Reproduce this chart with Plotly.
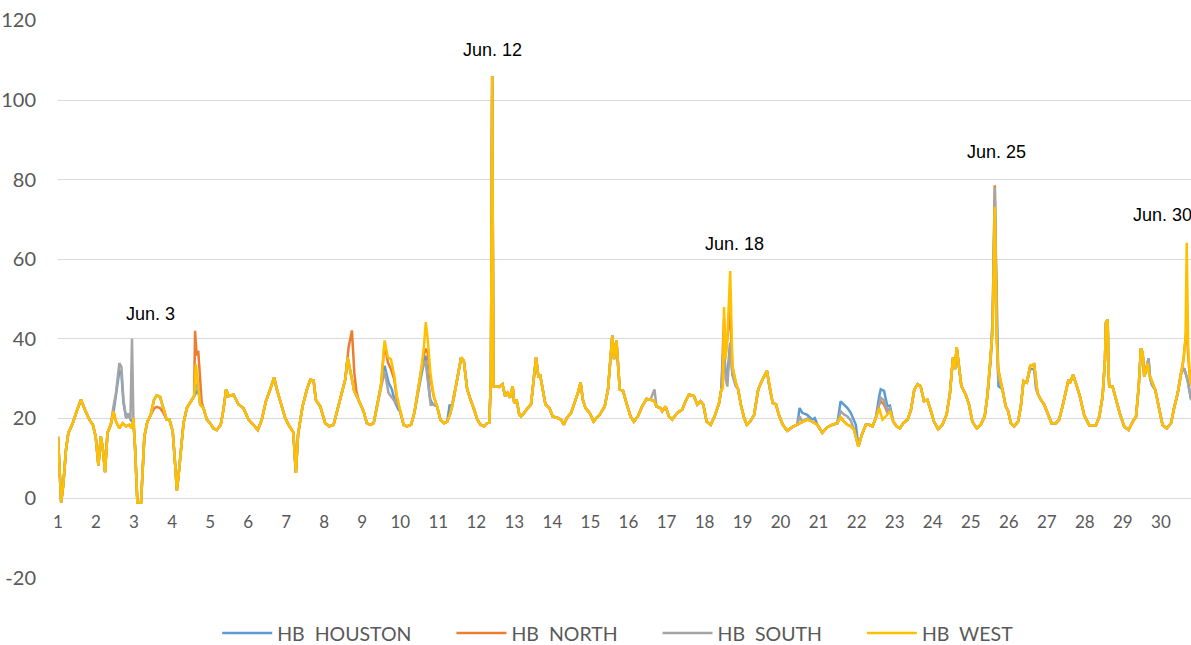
import plotly.graph_objects as go

# ---- data (hour of month, $/MWh) ----
west_h = [0, 2, 3.4, 5, 6.5, 9.3, 11.8, 14.5, 17, 19.8, 22, 23.8, 25.5, 27, 28.2, 29.7, 31.2, 33.3, 35, 36.6,
          38.7, 40.8, 42.9, 45, 46.5, 47.6, 48.6, 50.1, 52.4, 54.5, 56.4, 58.5, 60.6, 62.3, 64.4, 66.5, 68.6, 70.3,
          72.4, 73.9, 75, 76, 77.5, 79.2, 81.3, 83.4, 85.9, 87, 88.5, 89.7, 91.8, 93.9, 96, 98, 100.2, 102.7,
          104.4, 106.1, 107.6, 110.7, 113.9, 117, 120.2, 123.4, 126.1, 128.6, 131.2, 133.9, 136.4, 138.1, 140.8,
          143.4, 145.5, 148.5, 150.1, 151.5, 154.3, 157.1, 159.2, 161.3, 162.7, 165.5, 168.6, 171.2, 173.9, 177.1,
          180.2, 181.3, 182.8, 184.5, 186.9, 189.6, 192.8, 194.9, 197, 199.2, 201.3, 203.8, 206.1, 208.2, 210.1,
          212.2, 213.9, 216, 218.1, 220.2, 222.8, 224.9, 227, 229.1, 230.8, 232.1, 233.3, 235, 237.1, 239.2, 241.3,
          243.5, 245.6, 247.7, 249.8, 251.9, 254.4, 256.1, 258.2, 260.3, 262.4, 264.6, 266.7, 268.8, 270.9, 272.2,
          273.2, 274, 274.8, 276, 278.4, 280.5, 282.2, 283.7, 285.2, 286.9, 287.9, 289.4, 291.1, 292.2, 294.3,
          296.4, 298.5, 300.2, 301.7, 303.2, 304.2, 305.9, 307.6, 310.1, 312.2, 315.4, 317.5, 319.2, 321.1, 323.8,
          326, 328.1, 329.8, 331.2, 332.9, 335.5, 338, 339.7, 341.8, 345, 347.1, 348.6, 349.8, 350.9, 352.4, 354.5,
          356.6, 358.7, 361.3, 363.4, 365.9, 368.6, 371.4, 373.9, 376.4, 377.7, 380.2, 381.3, 383.4, 385.5, 387.6,
          390.8, 393.9, 396, 398.2, 401.3, 403.4, 405.5, 407.2, 409.3, 411.9, 414.4, 417.2, 418.6, 419.6, 420.3,
          421.3, 422.4, 424.2, 425.6, 427.7, 429.2, 430.9, 433, 434.7, 436.8, 439.3, 441.9, 444.6, 447.4, 448.9,
          451, 453.1, 454.9, 457.4, 460.2, 463.3, 466.5, 469.7, 472.8, 476, 479.2, 482.3, 485.5, 488.7, 491.8,
          493.9, 496, 498.2, 500.3, 502.4, 505.1, 507.2, 509.8, 511.9, 514, 516.1, 518.2, 520.3, 522.4, 525, 527.1,
          529.2, 531.3, 533.4, 536.2, 538.3, 540.4, 542.5, 544.4, 546.5, 548.6, 550.7, 552.8, 555.4, 558.1, 560.8,
          562.9, 564.8, 566.1, 567.1, 568.6, 570.1, 572.8, 574.9, 577, 579.8, 582.3, 584.8, 586.5, 588.6, 589.8,
          591.2, 592.4, 593.3, 596, 598.1, 599.6, 601.3, 603.4, 605.9, 607.6, 609.3, 611.4, 613.5, 616, 618.1,
          620.2, 622.3, 624.4, 627, 629.7, 631.8, 633.9, 636.1, 637.7, 638.5, 640.6, 642.7, 644.9, 647.6, 650.8,
          655, 657.1, 659.2, 660.7, 661.3, 662.4, 663, 663.4, 665.5, 667.6, 670.1, 672.9, 675.6, 678.2, 680.3, 682,
          683.4, 684.5, 685.5, 686.6, 687.6, 688.7, 690.4, 692.5, 694.6, 697.1, 699.7, 702.4, 704.5, 706.6, 708.7,
          710.2, 711.5, 712.3, 713.2, 714.4, 715.7, 717, 719]
west_v = [15.4, -1.1, 3.6, 12, 16.3, 18.8, 21.8, 24.7, 22.2, 19.7, 18.4, 15.4, 8.2, 15.4, 12.7, 6.5, 16.3, 18.4, 21.8, 19.2,
          17.5, 18.8, 18, 18.4, 17.5, 20.1, 12.9, -1.1, -1.1, 15.4, 19.2, 20.9, 24.7, 25.8, 25.4, 22.6, 19.7, 19.7,
          16.7, 8.6, 1.9, 5.3, 12, 18.8, 22.6, 23.9, 25.6, 33.6, 28, 23.5, 22.6, 19.7, 18.8, 17.5, 17.1, 18.4,
          22.2, 27.3, 25.6, 26, 23.5, 22.6, 19.7, 18.4, 17.1, 19.7, 24.3, 27.3, 30.3, 27.3, 23.9,
          20.1, 18.4, 16.5, 6.3, 16, 23, 27.3, 29.7, 29.5, 24.7, 23, 18.8, 18, 18.4, 23.5,
          28, 29.8, 35.3, 31.5, 26.9, 24.7, 21.8, 18.8, 18.4, 18.8, 23, 28.1, 39.6, 35.3, 34.9,
          30.7, 25.6, 21.8, 18.4, 18, 18.4, 21.4, 26.4, 31.9, 37.5, 44.2, 40, 31.5, 25.6, 23, 19.7,
          18.8, 19.2, 21.4, 25.2, 29.8, 35.3, 34.5, 27.3, 24.7, 22.6, 19.7, 18.4, 18, 18.8, 19,
          30, 106, 28.1, 28, 27.9, 28.6, 25.6, 26.4, 25.2, 28.1, 23.9, 24.7, 20.9, 20.5, 21.4,
          22.6, 23.5, 29.8, 35.3, 30.3, 31.1, 27.3, 23.5, 22.6, 20.5, 20.1, 19.7, 18.4, 20.1, 21.4,
          23.9, 26.4, 29, 24.7, 22.6, 21.4, 19.2, 20.1, 20.9, 23, 27.3, 34, 40.8, 34.9, 39.6, 27.3,
          26.9, 23.9, 20.5, 19.2, 20.5, 23, 24.9, 24.7, 24.3, 23, 22.6, 21.8, 23, 20.5, 19.7,
          21.4, 22.2, 24.3, 26, 25.6, 23.5, 24.3, 23.5, 19.2, 18.4, 20.5, 23.9, 27.3, 27.5, 48,
          34.9, 40, 57, 33.2, 29, 27.3, 23.5, 20.1, 18.4, 19.2, 20.9, 27.3, 29.8, 31.9, 28.1,
          23.9, 23.5, 20.9, 18.4, 16.9, 17.8, 18.4, 19.2, 19.7, 19.2, 18.4, 16.4, 17.8, 18.4, 18.8,
          20.3, 19.2, 18.4, 18, 17.1, 12.9, 15.8, 18.4, 18.4, 18, 20.1, 22.6, 19.7, 20.5, 21.8, 19.2,
          18, 17.5, 18.8, 19.7, 22.2, 27.3, 28.6, 28.1, 24.3, 24.7, 22.2, 19.2, 17.3, 18.4, 21,
          26.4, 35.3, 32.4, 37.9, 33, 28.1, 26, 23.5, 19.2, 17.5, 18.4, 20.5, 25.6, 34.9, 42,
          73.2, 40, 32.4, 27.3, 23, 21.8, 18.8, 18, 19.2, 23, 29.4, 29, 33.2, 33.6, 26.4,
          24.7, 23.5, 21.4, 18.8, 18.8, 19.7, 23, 26.5, 29.7, 28.8, 30.9, 28.4, 25.5, 20.8, 18.3,
          18.3, 20.4, 25.5, 34.7, 44, 44.8, 31.5, 28, 28, 24.6, 21.2, 17.9, 17.1, 19.2, 20.4, 28,
          37.6, 36.4, 30.5, 32.2, 33.9, 31, 29.2, 27.1, 22.9, 18.3, 17.5, 18.8, 22.9, 26.3, 31.3,
          34.6, 39.7, 64.1, 38, 29.7, 28, 25, 23]

# stretches where the other hubs depart from HB WEST (hour, value)
houston_h = [33.3, 35, 36.6, 38.7, 40, 41.3, 43, 44.4, 45.7, 47.6, 48.6,
             85.9, 87, 88.5, 89.7,
             203.8, 206.1, 208.6, 210.7, 212.8, 214.9, 216,
             227, 229.6, 231.9, 233.2, 234.9, 236.6, 239.2,
             245.6, 247.2, 248.5, 249.8,
             418.6, 420.4, 421.4, 422.4, 424.2, 425.6, 427.7, 429.2,
             466.5, 468, 469.7, 472.8, 476, 477.6, 479.2,
             491.8, 493.9, 496, 498.2, 500.3, 501.8, 503.5, 505.1,
             516.1, 518.2, 519.2, 521.3, 523.4, 525, 526.7, 527.1,
             588.6, 589.8, 591.2, 592.4, 593.5, 596,
             611.4, 613.5, 616, 617.2, 618.1,
             685.5, 686.6, 688.2, 689.2, 690.4, 692.5,
             708.7, 710.7, 712.8, 714.9, 717, 719]
houston_v = [18.4, 21.5, 25.6, 31.9, 31.5, 23.9, 20.1, 21.2, 19.7, 18.8, 12.9,
             25.6, 26.4, 27.3, 23.5,
             28.1, 33.2, 29, 27.3, 23.9, 22.2, 21.8,
             26.4, 31.5, 35.8, 31.5, 24.7, 23.5, 23,
             19.2, 23.5, 22.5, 25.2,
             27.3, 36, 31, 30.5, 39, 31, 28.2, 27.3,
             18.4, 22.6, 21.4, 20.9, 19.7, 20.1, 18.4,
             18.8, 24.3, 23.5, 22.6, 21.4, 20.1, 18.4, 12.9,
             20.1, 25.5, 27.3, 26.9, 23, 23.2, 20.1, 19.2,
             34.9, 42, 75, 45, 28.1, 27.3,
             29, 32.4, 32.4, 27.5, 26.4,
             30.5, 32.2, 35.1, 30, 28.4, 27.1,
             31.3, 32.6, 29.7, 25, 24, 23]

north_h = [58.5, 60.6, 62.3, 64.4, 66.5, 68.6,
           83.4, 85.9, 86.5, 87.5, 88.5, 89.7, 90.7, 91.8,
           181.3, 183.4, 185.5, 187, 188.3, 189.6,
           203.8, 206.1, 208.2, 210.1, 212.2, 213.9, 216,
           229.1, 230.8, 232.1, 233.3, 235, 237.1,
           418.6, 420.3, 421.3, 422.4, 424.2, 425.6, 427.7,
           516.1, 518.2, 519.2, 521.3, 523.4, 525, 527.1,
           588.6, 589.8, 591.2, 592.4, 593.3,
           710.2, 711.5, 712.3, 713.2, 714.4]
north_v = [20.9, 22.5, 22.9, 22.6, 21.4, 19.7,
           23.9, 25.6, 42, 35.8, 37, 29, 24, 22.6,
           29.8, 37.9, 42.1, 31.5, 26.9, 24.7,
           28.1, 38.7, 34, 32.4, 29.8, 24.7, 21.8,
           31.9, 36, 37.5, 36.5, 30, 25.6,
           27.3, 45, 36, 40, 47, 33, 29,
           20.1, 23.5, 24.3, 23.5, 21.5, 22, 19.2,
           34.9, 45, 78.6, 40, 32.4,
           34.6, 40, 42.7, 36, 29.7]

south_h = [33.3, 35, 36.6, 38.7, 40, 41.3, 43, 44.4, 45.7, 46.7, 47.6, 48.6,
           85.9, 87, 88.5, 89.7,
           203.8, 206.1, 208.6, 210.7, 212.8, 214.9, 216,
           229.1, 231.9, 233.2, 235.2, 237.1, 239.2,
           373.9, 376.4, 377.7,
           418.6, 420.3, 421.3, 422.4, 424.2, 425.6, 427.7, 429.2,
           466.5, 468, 472.8, 476,
           491.8, 493.9, 496, 498.2, 500.3, 502.4,
           516.1, 518.2, 519.2, 521.3, 523.4, 525, 527.1,
           588.6, 589.8, 591.2, 592.4, 593.3, 596,
           685.5, 686.6, 688.2, 689.2, 690.4, 692.5,
           708.7, 710.7, 712.8, 714.9, 717, 719]
south_v = [18.4, 23, 26.4, 33.9, 33, 24.7, 20.1, 21, 19.7, 40, 19, 12.9,
           25.6, 28, 29, 23.5,
           28.1, 31.9, 26.4, 25.2, 23.9, 23, 21.8,
           31.9, 34.5, 30, 23.4, 23.5, 23,
           24.7, 27.3, 23,
           27.3, 40, 30, 28, 39, 31, 28.2, 27.3,
           18.4, 20.5, 20, 19.2,
           18.8, 21.8, 21, 20.5, 19.5, 17.1,
           20.1, 24, 25.2, 24.5, 22, 22.6, 19.2,
           34.9, 45, 78, 43, 30, 27.3,
           30.5, 32.2, 35.1, 30, 28.4, 27.1,
           31.3, 32.6, 29.7, 25, 24, 23]

day_labels = [str(d) for d in range(1, 31)]
day_hours = [24 * (d - 1) for d in range(1, 31)]
y_ticks = [-20, 0, 20, 40, 60, 80, 100, 120]
y_labels = ["-20", "0", "20", "40", "60", "80", "100", "120"]

notes = ["Jun. 3", "Jun. 12", "Jun. 18", "Jun. 25", "Jun. 30"]
note_h = [58.4, 274.1, 427, 592, 677.2]
note_y = [46.2, 112.6, 63.8, 87.0, 71.1]

NB = "\u00a0"


def merge(dev_h, dev_v):
    segs, start = [], 0
    for i in range(1, len(dev_h) + 1):
        if i == len(dev_h) or dev_h[i] - dev_h[i - 1] > 4:
            segs.append((dev_h[start], dev_h[i - 1]))
            start = i
    pts = [(h, v) for h, v in zip(west_h, west_v) if not any(a <= h <= b for a, b in segs)]
    pts += list(zip(dev_h, dev_v))
    pts.sort()
    return [p[0] for p in pts], [p[1] for p in pts]


pad = NB * 7
series = [
    ("HB" + NB + " HOUSTON" + pad, *merge(houston_h, houston_v), "#5B9BD5"),
    ("HB" + NB + " NORTH" + pad, *merge(north_h, north_v), "#ED7D31"),
    ("HB" + NB + " SOUTH" + pad, *merge(south_h, south_v), "#A5A5A5"),
    ("HB" + NB + " WEST", west_h, west_v, "#FFC000"),
]

fig = go.Figure()
for name, xs, ys, col in series:
    fig.add_trace(go.Scatter(x=xs, y=ys, mode="lines", name=name,
                             line=dict(color=col, width=2.5)))

for t, h, y in zip(notes, note_h, note_y):
    fig.add_annotation(x=h, y=y, xref="x", yref="y", text=t, showarrow=False,
                       xanchor="left" if t == "Jun. 30" else "center", yanchor="middle",
                       font=dict(family="Liberation Sans, Arial", size=18, color="#000000"))

fig.update_layout(
    width=1191, height=645,
    margin=dict(l=58, r=0, t=20, b=67, autoexpand=False),
    paper_bgcolor="white", plot_bgcolor="white",
    showlegend=True,
    legend=dict(orientation="h", x=0.494, xanchor="center", y=-0.099, yanchor="middle",
                font=dict(family="Lato", size=19.5, color="#595959"),
                itemwidth=50, traceorder="normal"),
    xaxis=dict(range=[0, 715], tickvals=day_hours, ticktext=day_labels, automargin=False,
               anchor="free", position=20.1 / 140.2, showgrid=False, zeroline=False,
               showline=False, ticks="outside", ticklen=9, tickcolor="rgba(0,0,0,0)",
               tickfont=dict(family="Lato", size=17, color="#595959")),
    yaxis=dict(range=[-20.1, 120.1], tickvals=y_ticks, ticktext=y_labels,
               showgrid=True, gridcolor="#D9D9D9",
               gridwidth=1, zeroline=False, showline=False, ticks="outside", ticklen=17,
               tickcolor="rgba(0,0,0,0)", automargin=False,
               tickfont=dict(family="Lato", size=20, color="#595959")),
)

fig.write_html("out.html", config={"displayModeBar": False},
               post_script="document.body.style.margin='0';document.body.style.overflow='hidden';")
